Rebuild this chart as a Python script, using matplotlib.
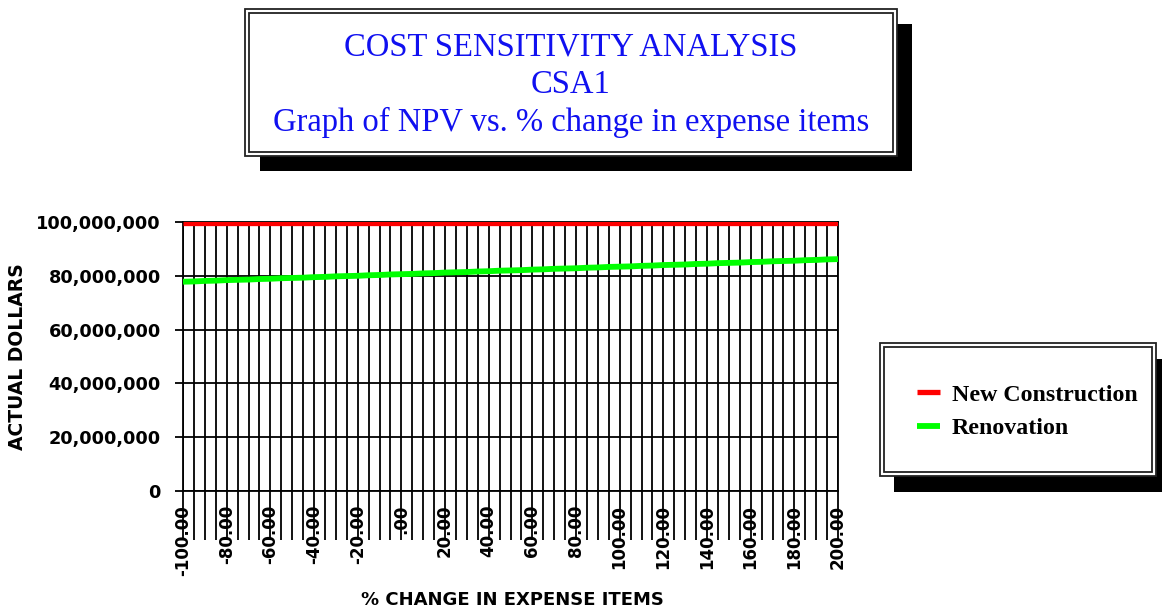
import numpy as np
import matplotlib
matplotlib.use("Agg")
import matplotlib.pyplot as plt
from matplotlib.patches import Rectangle

# dados do grafico
pct_change = list(range(-100, 201, 5))
new_construction = [99.6, 99.6, 99.6, 99.6, 99.6, 99.6, 99.6, 99.6, 99.6, 99.6,
                    99.6, 99.6, 99.6, 99.6, 99.6, 99.6, 99.6, 99.6, 99.6, 99.6,
                    99.6, 99.6, 99.6, 99.6, 99.6, 99.6, 99.6, 99.6, 99.6, 99.6,
                    99.6, 99.6, 99.6, 99.6, 99.6, 99.6, 99.6, 99.6, 99.6, 99.6,
                    99.6, 99.6, 99.6, 99.6, 99.6, 99.6, 99.6, 99.6, 99.6, 99.6,
                    99.6, 99.6, 99.6, 99.6, 99.6, 99.6, 99.6, 99.6, 99.6, 99.6,
                    99.6]
renovation = [77.8, 77.9, 78.1, 78.2, 78.4, 78.5, 78.6, 78.8, 78.9, 79.1,
              79.2, 79.3, 79.5, 79.6, 79.8, 79.9, 80.0, 80.2, 80.3, 80.5,
              80.6, 80.7, 80.9, 81.0, 81.2, 81.3, 81.4, 81.6, 81.7, 81.9,
              82.0, 82.1, 82.3, 82.4, 82.6, 82.7, 82.8, 83.0, 83.1, 83.3,
              83.4, 83.5, 83.7, 83.8, 84.0, 84.1, 84.2, 84.4, 84.5, 84.7,
              84.8, 84.9, 85.1, 85.2, 85.4, 85.5, 85.6, 85.8, 85.9, 86.1,
              86.2]
x_ticks = list(range(-100, 201, 20))
x_tick_labels = ['-100.00', '-80.00', '-60.00', '-40.00', '-20.00', '.00',
                 '20.00', '40.00', '60.00', '80.00', '100.00', '120.00',
                 '140.00', '160.00', '180.00', '200.00']
y_ticks = [0, 20e6, 40e6, 60e6, 80e6, 100e6]
y_tick_labels = ['0', '20,000,000', '40,000,000', '60,000,000', '80,000,000', '100,000,000']

W, H = 1162, 610
fig = plt.figure(figsize=(W / 100, H / 100), dpi=100)


def caixa(x0, y0, x1, y1, **kw):
    # retangulo em pixels (origem no topo)
    return Rectangle((x0 / W, 1 - y1 / H), (x1 - x0) / W, (y1 - y0) / H,
                     transform=fig.transFigure, figure=fig, **kw)


def caixa_dupla(x0, y0, x1, y1, dx, dy):
    fig.patches.append(caixa(x0 + dx, y0 + dy, x1 + dx, y1 + dy, facecolor='black', edgecolor='none'))
    fig.patches.append(caixa(x0, y0, x1, y1, facecolor='white', edgecolor='#222222', linewidth=1.3))
    fig.patches.append(caixa(x0 + 4, y0 + 4, x1 - 4, y1 - 4, facecolor='none', edgecolor='#222222', linewidth=1.3))


# caixa do titulo
caixa_dupla(245, 9, 897, 156, 15, 15)
titulos = ['COST SENSITIVITY ANALYSIS', 'CSA1', 'Graph of NPV vs. % change in expense items']
for texto, yy in zip(titulos, [47, 85, 122]):
    fig.text(571 / W, 1 - yy / H, texto, ha='center', va='center', color='#1010F0',
             fontsize=23.5, family='Liberation Serif')

# caixa da legenda
caixa_dupla(880, 343, 1156, 476, 14, 16)

ax = fig.add_axes([183 / W, 1 - 491 / H, (838 - 183) / W, (491 - 222) / H])
ax.set_zorder(1)
ax.patch.set_alpha(0)

y_new = np.array(new_construction) * 1e6
y_ren = np.array(renovation) * 1e6
l1, = ax.plot(pct_change, y_new, color='#FF0000', linewidth=3.8, zorder=4,
              solid_capstyle='butt', label='New Construction')
l2, = ax.plot(pct_change, y_ren, color='#00FF00', linewidth=4.2, zorder=4,
              solid_capstyle='butt', label='Renovation')

ax.set_xlim(-100, 200)
ax.set_ylim(0, 100e6)
ax.set_xticks(x_ticks)
ax.set_xticklabels(x_tick_labels, rotation=90, fontsize=12, fontweight='bold',
                   family='DejaVu Sans', va='top')
ax.set_xticks(pct_change, minor=True)
ax.set_yticks(y_ticks)
ax.set_yticklabels(y_tick_labels, fontsize=12.8, fontweight='bold', family='DejaVu Sans')

ax.grid(axis='x', which='both', color='black', linewidth=1.3)
ax.grid(axis='y', which='major', color='black', linewidth=1.3)
ax.tick_params(axis='x', which='both', direction='out', length=35, width=1.3, pad=-25)
ax.tick_params(axis='y', which='major', direction='out', length=6, width=1.3, pad=10)
ax.tick_params(axis='y', which='minor', length=0)
for s in ax.spines.values():
    s.set_color('black')
    s.set_linewidth(1.3)

fig.text(18 / W, 1 - 357 / H, 'ACTUAL DOLLARS', rotation=90, ha='center', va='center',
         fontsize=13.5, fontweight='bold', family='DejaVu Sans')
fig.text(512 / W, 1 - 600 / H, '% CHANGE IN EXPENSE ITEMS', ha='center', va='center',
         fontsize=13, fontweight='bold', family='DejaVu Sans')

fig.legend(handles=[l1, l2], loc='upper left', bbox_to_anchor=(917 / W, 1 - 384 / H),
           bbox_transform=fig.transFigure, frameon=False, handlelength=0.95,
           handletextpad=0.5, labelspacing=0.5, borderpad=0, borderaxespad=0,
           prop={'family': 'Liberation Serif', 'weight': 'bold', 'size': 17.2})

fig.savefig('out.png', dpi=100)
